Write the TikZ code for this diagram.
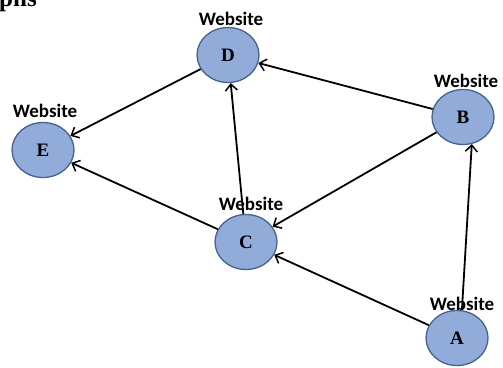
\documentclass[tikz,border=0pt]{standalone}
\usepackage{fontspec}
\setmainfont{Liberation Serif}
\newfontfamily\labelfont{Carlito}
\usetikzlibrary{arrows.meta,shapes.geometric}

\definecolor{sitefill}{RGB}{146,172,218}
\definecolor{siteedge}{RGB}{70,98,142}

\tikzset{
  site/.style={ellipse, draw=siteedge, line width=1.3pt, fill=sitefill,
    minimum width=62pt, minimum height=55pt, inner sep=0pt,
    font=\fontsize{19}{19}\selectfont\bfseries},
  sitelabel/.style={anchor=base, inner sep=0pt,
    font=\labelfont\fontsize{19}{19}\selectfont\bfseries},
  link/.style={line width=1.8pt, black,
    -{Straight Barb[length=6.5pt,width=12pt,line width=1.5pt]}},
  heading/.style={anchor=base west, inner sep=0pt,
    font=\fontsize{25}{25}\selectfont\bfseries}
}

\begin{document}
\begin{tikzpicture}[x=1pt, y=-1pt]
  \useasboundingbox (0,0) rectangle (503,367);

  % cut-off heading at the top edge
  \node[heading] (title) at (-1,6) {phs};

  % website nodes
  \node[site] (D) at (228,55) {D};
  \node[site] (E) at (43,150) {E};
  \node[site] (B) at (463,117) {B};
  \node[site] (C) at (246,242) {C};
  \node[site] (A) at (457,338) {A};

  % captions above the nodes
  \node[sitelabel] (lD) at (231,25) {Website};
  \node[sitelabel] (lE) at (45,117) {Website};
  \node[sitelabel] (lB) at (466,87) {Website};
  \node[sitelabel] (lC) at (251,210) {Website};
  \node[sitelabel] (lA) at (462,310) {Website};

  % hyperlinks between the websites
  \draw[link] (D) -- (E);
  \draw[link] (B) -- (D);
  \draw[link] (C) -- (D);
  \draw[link] (C) -- (E);
  \draw[link] (B) -- (C);
  \draw[link] (A.80) -- (B.-72);
  \draw[link] (A) -- (C);
\end{tikzpicture}
\end{document}
